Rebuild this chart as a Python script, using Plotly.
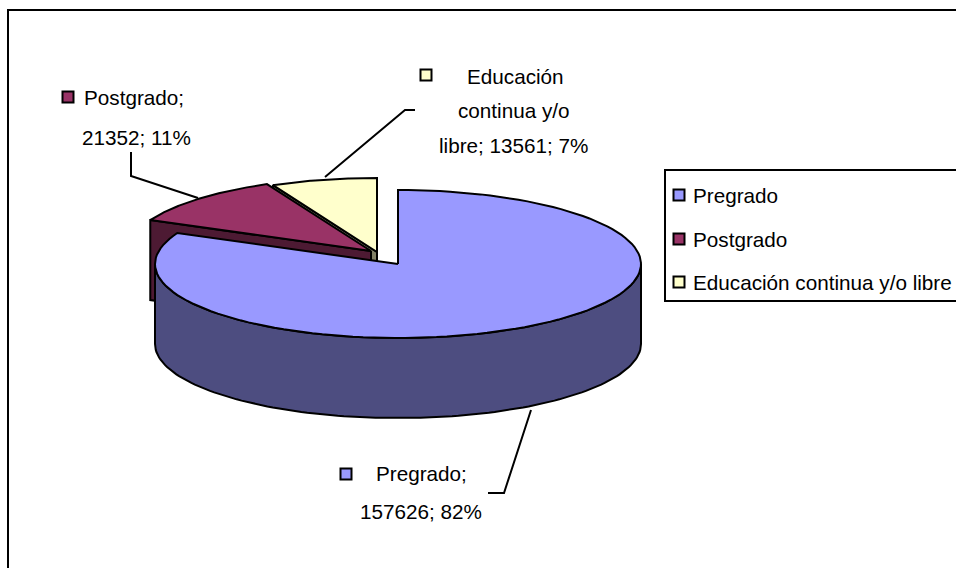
import numpy as np
import plotly.graph_objects as go

categories = ["Pregrado", "Postgrado", "Educación continua y/o libre"]
values = [157626, 21352, 13561]
percent_labels = [82, 11, 7]

top_colors = ["#9999FF", "#993366", "#FFFFCC"]
side_colors = ["#4D4D80", "#4D1A33", "#808066"]
centers = [(398, 264), (371, 251), (377, 252)]
RX, RY, DEPTH = 243, 74, 80
LW = 2
FONT = "Liberation Sans"
FS = 20.7

total = sum(values)
fractions = np.array(values) / total
starts = np.concatenate([[0], np.cumsum(fractions)[:-1]]) * 360
ends = np.cumsum(fractions) * 360


def rim(center, a0, a1, dy=0, n=120):
    t = np.radians(np.linspace(a0, a1, n))
    return center[0] + RX * np.sin(t), center[1] - RY * np.cos(t) + dy


def poly(xs, ys, fill):
    return go.Scatter(x=list(xs), y=list(ys), mode="lines", fill="toself", fillcolor=fill,
                      line=dict(color="black", width=LW), hoverinfo="skip", showlegend=False)


def radial_face(center, angle, fill):
    ex, ey = rim(center, angle, angle, n=1)
    return poly([center[0], ex[0], ex[0], center[0], center[0]],
                [center[1], ey[0], ey[0] + DEPTH, center[1] + DEPTH, center[1]], fill)


def wedge(center, a0, a1, fill):
    x, y = rim(center, a0, a1)
    return poly(np.r_[center[0], x, center[0]], np.r_[center[1], y, center[1]], fill)


fig = go.Figure()

# yellow slice: radial face then top
fig.add_trace(radial_face(centers[2], starts[2], side_colors[2]))
fig.add_trace(wedge(centers[2], starts[2], ends[2], top_colors[2]))
# red slice
fig.add_trace(radial_face(centers[1], starts[1], side_colors[1]))
fig.add_trace(wedge(centers[1], starts[1], ends[1], top_colors[1]))
# main slice: outer wall then top
xt, yt = rim(centers[0], 90, 270)
xb, yb = rim(centers[0], 270, 90, dy=DEPTH)
fig.add_trace(poly(np.r_[xt, xb, xt[0]], np.r_[yt, yb, yt[0]], side_colors[0]))
fig.add_trace(wedge(centers[0], starts[0], ends[0], top_colors[0]))

# leader lines
leaders = [
    ([488, 504, 531], [493, 493, 410]),
    ([131, 131, 198], [152, 176, 198]),
    ([415, 405, 325], [110, 110, 177]),
]
for lx, ly in leaders:
    fig.add_trace(go.Scatter(x=lx, y=ly, mode="lines", line=dict(color="black", width=LW),
                             hoverinfo="skip", showlegend=False))

# swatches for data labels and legend
swatch_pos = [(346, 474), (68, 97), (426, 75)]
legend_pos = [(679, 195), (679, 239), (679, 282)]
for i in range(3):
    fig.add_trace(go.Scatter(
        x=[swatch_pos[i][0], legend_pos[i][0]], y=[swatch_pos[i][1], legend_pos[i][1]], mode="markers",
        marker=dict(symbol="square", size=11, color=top_colors[i], line=dict(color="black", width=2)),
        hoverinfo="skip", showlegend=False))

annotations = []


def text(x, y, s, anchor="center"):
    annotations.append(dict(x=x, y=y, text=s, showarrow=False, xanchor=anchor, yanchor="middle",
                            font=dict(family=FONT, size=FS, color="black")))


text(421, 473, f"{categories[0]};")
text(421, 511, f"{values[0]}; {percent_labels[0]}%")
text(134, 97, f"{categories[1]};")
text(136, 137, f"{values[1]}; {percent_labels[1]}%")
words = categories[2].split(" ")
text(515, 76, words[0])
text(514, 110, f"{words[1]} {words[2]}")
text(514, 145, f"{words[3]}; {values[2]}; {percent_labels[2]}%")
for i in range(3):
    text(691, legend_pos[i][1], categories[i], anchor="left")

shapes = [
    dict(type="rect", xref="x", yref="y", x0=8, y0=10, x1=990, y1=600,
         line=dict(color="black", width=2), fillcolor="rgba(0,0,0,0)", layer="below"),
    dict(type="rect", xref="x", yref="y", x0=665, y0=170, x1=990, y1=301,
         line=dict(color="black", width=2), fillcolor="white", layer="below"),
]

fig.update_layout(
    width=956, height=568, autosize=False,
    margin=dict(l=0, r=0, t=0, b=0),
    paper_bgcolor="white", plot_bgcolor="white",
    xaxis=dict(range=[0, 956], visible=False, fixedrange=True),
    yaxis=dict(range=[568, 0], visible=False, fixedrange=True),
    annotations=annotations, shapes=shapes, showlegend=False,
)
fig.write_html("out.html", config=dict(displayModeBar=False),
               post_script="document.body.style.margin='0';document.body.style.overflow='hidden';")
